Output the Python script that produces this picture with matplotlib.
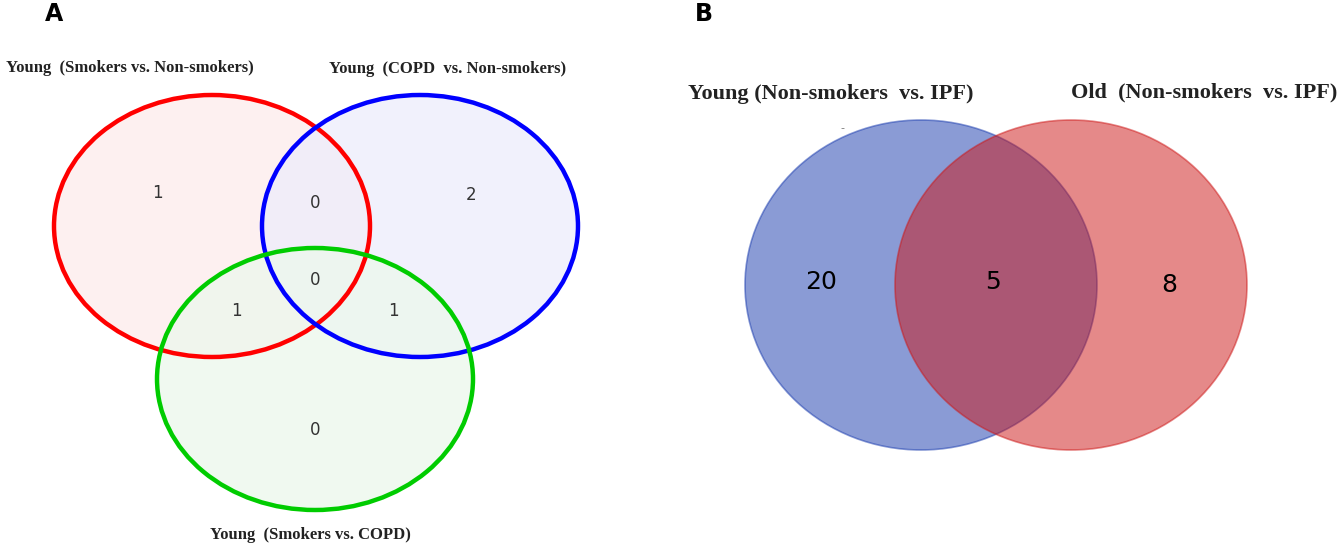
import matplotlib.pyplot as plt
from matplotlib.patches import Ellipse

# panel A: three-way overlap of young comparisons
sets_a = ["Young  (Smokers vs. Non-smokers)", "Young  (COPD  vs. Non-smokers)", "Young  (Smokers vs. COPD)"]
regions_a = ["S only", "C only", "SC only", "S&C", "S&SC", "C&SC", "all"]
counts_a = [1, 2, 0, 0, 1, 1, 0]

# panel B: young vs old IPF comparison
sets_b = ["Young (Non-smokers  vs. IPF)", "Old  (Non-smokers  vs. IPF)"]
counts_b = [20, 5, 8]  # young only, shared, old only

fig = plt.figure(figsize=(13.4, 5.52), dpi=100)
ax = fig.add_axes([0, 0, 1, 1])
ax.set_xlim(0, 1340)
ax.set_ylim(552, 0)
ax.axis("off")

serif = ["Liberation Serif", "DejaVu Serif"]

# ---- panel A
edge_a = ["#ff0000", "#0000ff", "#00cc00"]
fill_a = ["#fdecec", "#ededfc", "#ecf8ec"]
centers_a = [(212, 226), (420, 226), (315, 379)]
for (cx, cy), fc in zip(centers_a, fill_a):
    ax.add_patch(Ellipse((cx, cy), 316, 262, facecolor=fc, edgecolor="none", alpha=0.75))
for (cx, cy), ec in zip(centers_a, edge_a):
    ax.add_patch(Ellipse((cx, cy), 316, 262, facecolor="none", edgecolor=ec, lw=3.2))

pos_a = [(157, 193), (471, 195), (315, 430), (315, 203), (236, 311), (393, 311), (315, 280)]
for (x, y), n in zip(pos_a, counts_a):
    ax.text(x, y, str(n), ha="center", va="center", fontsize=12, color="#333333")

label_pos_a = [(130, 68), (448, 69), (310, 535)]
for (x, y), s in zip(label_pos_a, sets_a):
    ax.text(x, y, s, ha="center", va="center", fontsize=12, fontweight="bold",
            family=serif, color="#222222")

# ---- panel B
fill_b = ["#1739ad", "#cd1515"]
centers_b = [(921, 285), (1071, 285)]
for (cx, cy), fc in zip(centers_b, fill_b):
    ax.add_patch(Ellipse((cx, cy), 352, 330, facecolor=fc, edgecolor=fc, alpha=0.5, lw=1.2))

pos_b = [(821, 282), (993, 282), (1169, 285)]
for (x, y), n in zip(pos_b, counts_b):
    ax.text(x, y, str(n), ha="center", va="center", fontsize=18, color="black")

label_pos_b = [(831, 94), (1204, 92)]
for (x, y), s in zip(label_pos_b, sets_b):
    ax.text(x, y, s, ha="center", va="center", fontsize=16, fontweight="bold",
            family=serif, color="#222222")
ax.text(842, 128, "-", ha="center", va="center", fontsize=8, color="#777777")

ax.text(45, 14, "A", ha="left", va="center", fontsize=17, fontweight="bold")
ax.text(695, 14, "B", ha="left", va="center", fontsize=17, fontweight="bold")

fig.savefig("out.png", dpi=100)
plt.close(fig)
